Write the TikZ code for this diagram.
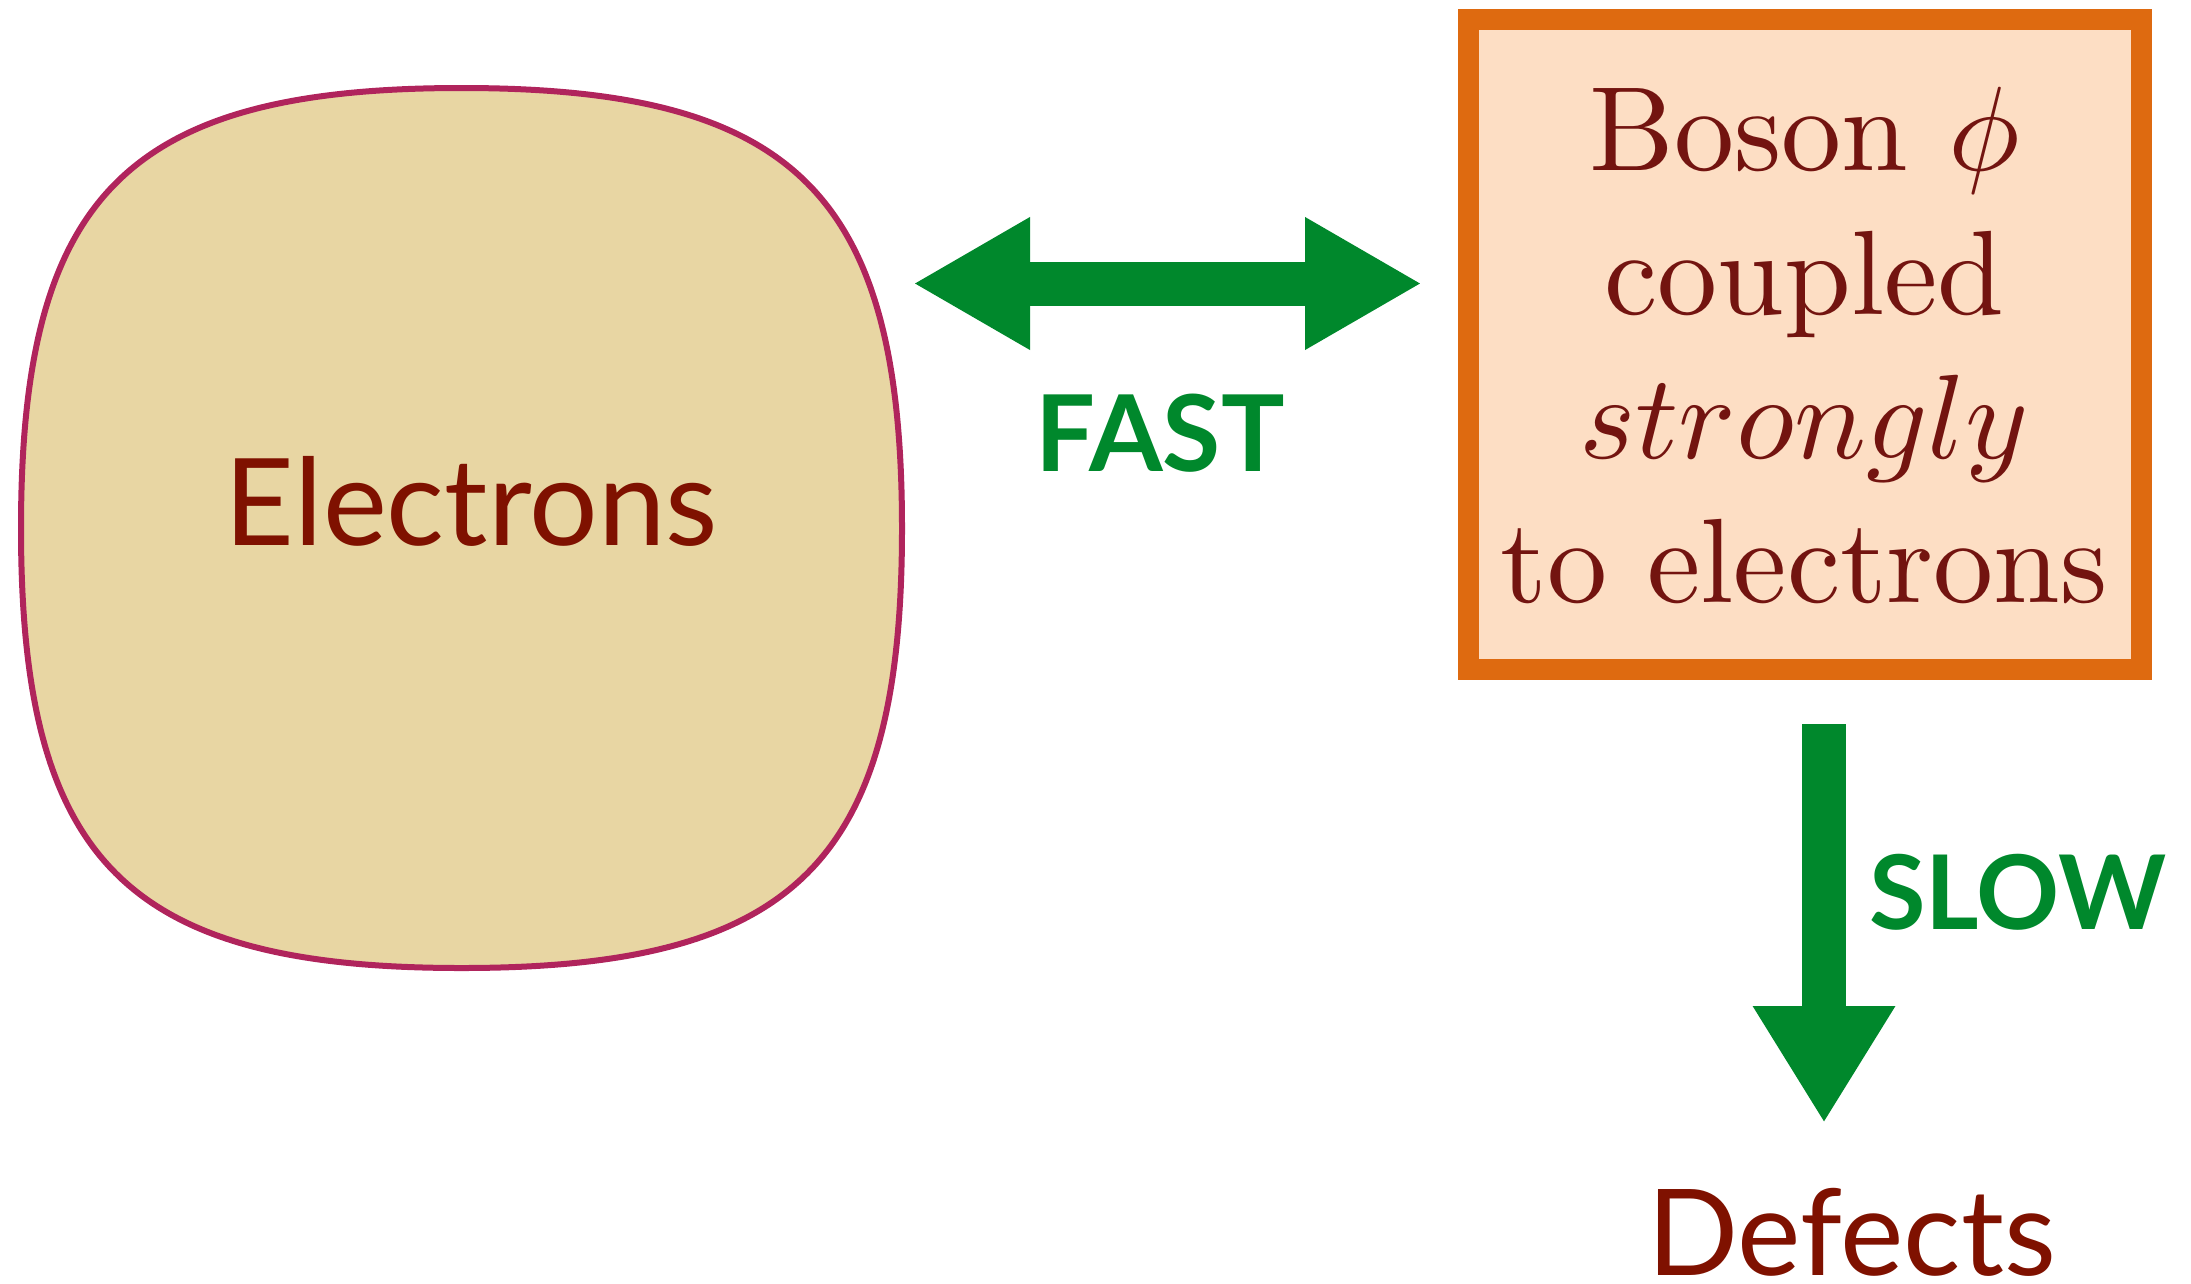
\documentclass[tikz,border=0pt]{standalone}
\usepackage{fontspec}
\usepackage{amsmath}
\usepackage{xcolor}
\usepackage{tikz}
\usetikzlibrary{arrows.meta}
\newfontfamily\gillfont{Lato}
\DeclareFontFamily{OT1}{cmten}{}
\DeclareFontShape{OT1}{cmten}{m}{n}{<->cmr10}{}
\DeclareFontFamily{OML}{cmm}{\skewchar\font127}
\DeclareFontShape{OML}{cmm}{m}{it}{<->cmmi10}{}
\newcommand{\cmtenfont}{\fontencoding{OT1}\fontfamily{cmten}\selectfont}
\definecolor{blobfill}{HTML}{E8D6A3}
\definecolor{blobline}{HTML}{B0245C}
\definecolor{boxfill}{HTML}{FDDEC4}
\definecolor{boxline}{HTML}{DE6A10}
\definecolor{darkred}{HTML}{7F1100}
\definecolor{boxtext}{HTML}{731410}
\definecolor{arrowgreen}{HTML}{00882C}
\tikzset{
  bigarrow/.style={arrowgreen, line width=44pt},
  fasthead/.tip={Triangle[length=117pt,width=124pt]},
  slowhead/.tip={Triangle[length=117pt,width=134pt]},
  gilltext/.style={inner sep=0pt, anchor=base, text=darkred, font=\gillfont\fontsize{121}{145}\selectfont},
  ratetext/.style={inner sep=0pt, anchor=base, text=arrowgreen, font=\gillfont\bfseries\fontsize{106}{127}\selectfont},
  bosonbox/.style={draw=boxline, fill=boxfill, line width=21pt, minimum width=673pt, minimum height=650pt, inner sep=0pt, align=center, text=boxtext, font=\fontsize{120}{144}\cmtenfont}
}
\begin{document}
\begin{tikzpicture}[x=1pt,y=-1pt]
\useasboundingbox (0,0) rectangle (2191,1283);
\draw[blobline, fill=blobfill, line width=6pt] (902,528.5) .. controls (902,195) and (796,88) .. (461.5,88) .. controls (127,88) and (21,195) .. (21,528.5) .. controls (21,862) and (127,968) .. (461.5,968) .. controls (796,968) and (902,862) .. (902,528.5) -- cycle;
\node[gilltext] (elec) at (471.5,545) {Electrons};
\node[bosonbox] (boson) at (1804.5,344.5) {Boson $\phi$\\ coupled\\ $strongly$\\ to electrons};
\node[gilltext, font=\gillfont\fontsize{120}{144}\selectfont] (defects) at (1851.5,1275) {Defects};
\coordinate (fastL) at (913,283.5);
\coordinate (fastR) at (1422,283.5);
\draw[bigarrow, fasthead-fasthead] (fastL) -- (fastR);
\node[ratetext] (fast) at (1160,471) {FAST};
\coordinate (slowT) at (1824,724);
\coordinate (slowB) at (1824,1123);
\draw[bigarrow, -slowhead] (slowT) -- (slowB);
\node[ratetext, anchor=base west, font=\gillfont\bfseries\fontsize{103}{124}\selectfont] (slow) at (1869,929) {SLOW};
\end{tikzpicture}
\end{document}
